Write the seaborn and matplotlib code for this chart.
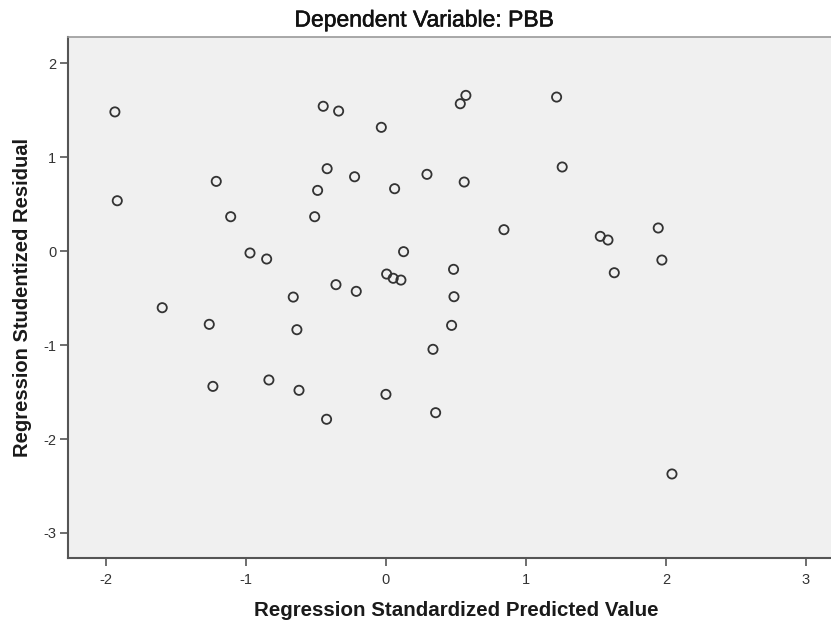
import matplotlib
matplotlib.use("Agg")
import matplotlib.pyplot as plt
import matplotlib.patheffects as pe
import seaborn as sns
import pandas as pd

pred = [-1.936, -1.919, -1.598, -1.262, -1.236, -1.212, -1.109, -0.971, -0.852, -0.836,
        -0.662, -0.636, -0.621, -0.509, -0.488, -0.448, -0.424, -0.420, -0.357, -0.338,
        -0.224, -0.212, -0.033, 0.000, 0.005, 0.052, 0.062, 0.107, 0.126, 0.293,
        0.336, 0.355, 0.469, 0.483, 0.486, 0.531, 0.559, 0.571, 0.843, 1.219,
        1.259, 1.531, 1.586, 1.631, 1.945, 1.971, 2.043]
resid = [1.480, 0.535, -0.603, -0.780, -1.440, 0.741, 0.365, -0.021, -0.085, -1.372,
         -0.490, -0.837, -1.482, 0.365, 0.645, 1.540, -1.790, 0.876, -0.358, 1.489,
         0.790, -0.429, 1.316, -1.525, -0.245, -0.290, 0.663, -0.309, -0.007, 0.816,
         -1.046, -1.720, -0.791, -0.195, -0.486, 1.567, 0.734, 1.656, 0.227, 1.638,
         0.894, 0.156, 0.117, -0.231, 0.245, -0.096, -2.372]
x_ticks = [-2, -1, 0, 1, 2, 3]
y_ticks = [-3, -2, -1, 0, 1, 2]

df = pd.DataFrame({"pred": pred, "resid": resid})

sns.set_style("white")
plt.rcParams['font.family'] = ['Liberation Sans', 'DejaVu Sans']

fig = plt.figure(figsize=(8.31, 6.21), dpi=100)
ax = fig.add_axes([68/831, 1 - 558/621, 1 - 68/831, (558 - 37)/621])
ax.set_facecolor("#f0f0f0")

sns.scatterplot(data=df, x="pred", y="resid", ax=ax, marker="o", s=44,
                facecolor="none", edgecolor="#333333", linewidth=1.3, legend=False)

ax.set_xlim(-2.271, 3.179)
ax.set_ylim(-3.266, 2.277)
ax.set_xticks(x_ticks)
ax.set_yticks(y_ticks)
ax.set_xticklabels([str(t) for t in x_ticks])
ax.set_yticklabels([str(t) for t in y_ticks])

for side in ["left", "bottom"]:
    ax.spines[side].set_color("#555555")
    ax.spines[side].set_linewidth(1.5)
ax.spines["top"].set_color("#9a9a9a")
ax.spines["top"].set_linewidth(1.2)
ax.spines["right"].set_visible(False)

ax.tick_params(axis="both", direction="out", length=5.5, width=1.2, color="#555555",
               labelsize=10.5, labelcolor="#333333", left=True, bottom=True)
ax.tick_params(axis="x", pad=5)
ax.tick_params(axis="y", pad=3)

ax.set_xlabel("Regression Standardized Predicted Value", fontsize=14.8,
              fontweight="bold", color="#1a1a1a")
ax.xaxis.set_label_coords((456 - 68) / (831 - 68), -0.082)
ax.set_ylabel("Regression Studentized Residual", fontsize=14.5,
              fontweight="bold", color="#1a1a1a", labelpad=8)
t = fig.text(424 / 831, 1 - 20 / 621, "Dependent Variable: PBB", fontsize=16.5,
             color="#111111", ha="center", va="center")
t.set_path_effects([pe.withStroke(linewidth=0.4, foreground="#111111")])

fig.savefig("out.png", dpi=100)
